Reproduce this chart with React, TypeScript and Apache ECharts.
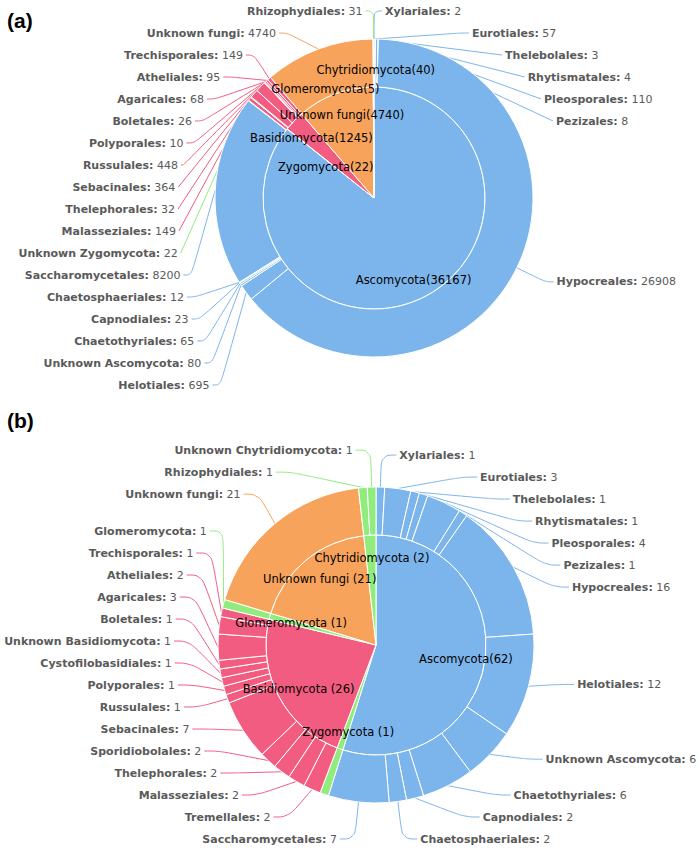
import React, { useEffect, useRef } from 'react';
import * as echarts from 'echarts';

// ---------- (a) ----------
const phylaA = ['Ascomycota', 'Zygomycota', 'Basidiomycota', 'Unknown fungi', 'Glomeromycota', 'Chytridiomycota'];
const phylumCountsA = [36167, 22, 1245, 4740, 5, 40];

const ascoOrdersA = ['Xylariales', 'Eurotiales', 'Thelebolales', 'Rhytismatales', 'Pleosporales', 'Pezizales', 'Hypocreales', 'Helotiales', 'Unknown Ascomycota', 'Chaetothyriales', 'Capnodiales', 'Chaetosphaeriales', 'Saccharomycetales'];
const ascoCountsA = [2, 57, 3, 4, 110, 8, 26908, 695, 80, 65, 23, 12, 8200];
const zygoOrdersA = ['Unknown Zygomycota'];
const zygoCountsA = [22];
const basidioOrdersA = ['Malasseziales', 'Thelephorales', 'Sebacinales', 'Russulales', 'Polyporales', 'Boletales', 'Agaricales', 'Atheliales', 'Trechisporales'];
const basidioCountsA = [149, 32, 364, 448, 10, 26, 68, 95, 149];
const unknownOrdersA = ['Unknown fungi'];
const unknownCountsA = [4740];
const glomOrdersA = ['Glomeromycota'];
const glomCountsA = [5];
const chytOrdersA = ['Rhizophydiales'];
const chytCountsA = [31];

// ---------- (b) ----------
const phylaB = ['Ascomycota', 'Zygomycota', 'Basidiomycota', 'Glomeromycota', 'Unknown fungi', 'Chytridiomycota'];
const phylumCountsB = [62, 1, 26, 1, 21, 2];

const ascoOrdersB = ['Xylariales', 'Eurotiales', 'Thelebolales', 'Rhytismatales', 'Pleosporales', 'Pezizales', 'Hypocreales', 'Helotiales', 'Unknown Ascomycota', 'Chaetothyriales', 'Capnodiales', 'Chaetosphaeriales', 'Saccharomycetales'];
const ascoCountsB = [1, 3, 1, 1, 4, 1, 16, 12, 6, 6, 2, 2, 7];
const zygoOrdersB = ['Unknown Zygomycota'];
const zygoCountsB = [1];
const basidioOrdersB = ['Tremellales', 'Malasseziales', 'Thelephorales', 'Sporidiobolales', 'Sebacinales', 'Russulales', 'Polyporales', 'Cystofilobasidiales', 'Unknown Basidiomycota', 'Boletales', 'Agaricales', 'Atheliales', 'Trechisporales'];
const basidioCountsB = [2, 2, 2, 2, 7, 1, 1, 1, 1, 1, 3, 2, 1];
const glomOrdersB = ['Glomeromycota'];
const glomCountsB = [1];
const unknownOrdersB = ['Unknown fungi'];
const unknownCountsB = [21];
const chytOrdersB = ['Rhizophydiales', 'Unknown Chytridiomycota'];
const chytCountsB = [1, 1];

const hiddenOuterA = ['Glomeromycota'];
const hiddenOuterB = ['Unknown Zygomycota'];

const COLORS: Record<string, string> = {
  Ascomycota: '#7cb5ec',
  Zygomycota: '#90ed7d',
  Basidiomycota: '#f15c80',
  'Unknown fungi': '#f7a35c',
  Glomeromycota: '#90ed7d',
  Chytridiomycota: '#90ed7d',
};

const FONT = 'DejaVu Sans';
const LABEL_GREY = '#5a5a5a';

type Group = { phylum: string; names: string[]; counts: number[] };

function buildOuter(groups: Group[], hidden: string[]) {
  const out: any[] = [];
  groups.forEach((g) => {
    g.names.forEach((n, i) => {
      const hide = hidden.indexOf(n) >= 0;
      out.push({
        name: n,
        value: g.counts[i],
        itemStyle: { color: COLORS[g.phylum] },
        label: hide ? { show: false } : undefined,
        labelLine: hide ? { show: false } : undefined,
      });
    });
  });
  return out;
}

function buildInner(names: string[], counts: number[]) {
  return names.map((n, i) => ({ name: n, value: counts[i], itemStyle: { color: COLORS[n] } }));
}

function innerLayout(counts: number[], cx: number, cy: number, r: number, nudges: number[][]) {
  const total = counts.reduce((a, b) => a + b, 0);
  return (params: any) => {
    const i = params.dataIndex;
    let before = 0;
    for (let k = 0; k < i; k++) before += counts[k];
    const mid = ((before + counts[i] / 2) / total) * Math.PI * 2;
    const nd = nudges[i] || [0, 0];
    return {
      x: cx + r * Math.sin(mid) + nd[0],
      y: cy - r * Math.cos(mid) + nd[1],
      align: 'center',
      verticalAlign: 'middle',
    };
  };
}

const innerNudgeA = [[0, 0], [23, 26], [3, 3], [0, 2], [-48, -18], [2, -37]];
const innerNudgeB = [[0, 0], [2, 1], [3, 1], [3, 2], [2, 4], [1, 4]];

// absolute pie centres (px) and series layout boxes (wider than the page so labels are never truncated)
const CXA = 374, CYA = 198, CXB = 376, CYB = 645;
const BOX_LEFT = -60, BOX_W = 820;

export default function App() {
  const ref = useRef<HTMLDivElement>(null);
  useEffect(() => {
    if (!ref.current) return;
    const chart = echarts.init(ref.current, undefined, { renderer: 'svg' });

    const outerA = buildOuter(
      [
        { phylum: 'Ascomycota', names: ascoOrdersA, counts: ascoCountsA },
        { phylum: 'Zygomycota', names: zygoOrdersA, counts: zygoCountsA },
        { phylum: 'Basidiomycota', names: basidioOrdersA, counts: basidioCountsA },
        { phylum: 'Unknown fungi', names: unknownOrdersA, counts: unknownCountsA },
        { phylum: 'Glomeromycota', names: glomOrdersA, counts: glomCountsA },
        { phylum: 'Chytridiomycota', names: chytOrdersA, counts: chytCountsA },
      ],
      hiddenOuterA
    );
    const outerB = buildOuter(
      [
        { phylum: 'Ascomycota', names: ascoOrdersB, counts: ascoCountsB },
        { phylum: 'Zygomycota', names: zygoOrdersB, counts: zygoCountsB },
        { phylum: 'Basidiomycota', names: basidioOrdersB, counts: basidioCountsB },
        { phylum: 'Glomeromycota', names: glomOrdersB, counts: glomCountsB },
        { phylum: 'Unknown fungi', names: unknownOrdersB, counts: unknownCountsB },
        { phylum: 'Chytridiomycota', names: chytOrdersB, counts: chytCountsB },
      ],
      hiddenOuterB
    );

    const outerLabel = {
      show: true,
      position: 'outside',
      formatter: '{n|{b}:} {v|{c}}',
      color: LABEL_GREY,
      fontFamily: FONT,
      fontSize: 11,
      lineHeight: 12,
      padding: [4, 0, 4, 0],
      distanceToLabelLine: 3,
      overflow: 'none',
      rich: {
        n: { fontFamily: FONT, fontSize: 11, fontWeight: 'bold', color: LABEL_GREY, lineHeight: 12 },
        v: { fontFamily: FONT, fontSize: 11, color: LABEL_GREY, lineHeight: 12 },
      },
    };
    const outerLineA = { show: true, length: 32, length2: 8, smooth: 0.4, lineStyle: { width: 1 } };
    const outerLineB = { show: true, length: 32, length2: 15, smooth: 0.4, lineStyle: { width: 1 } };
    const innerLabel = (sepAsco: string, sep: string) => ({
      show: true,
      position: 'inside',
      color: '#000',
      fontFamily: FONT,
      fontSize: 11.5,
      formatter: (p: any) => p.name + (p.dataIndex === 0 ? sepAsco : sep) + '(' + p.value + ')',
    });

    const boxA = { left: BOX_LEFT, top: 0, width: BOX_W, height: 396 };
    const boxB = { left: BOX_LEFT, top: 400, width: BOX_W, height: 450 };
    const centerA = [CXA - BOX_LEFT, CYA];
    const centerB = [CXB - BOX_LEFT, CYB - 400];

    chart.setOption({
      animation: false,
      graphic: [
        { type: 'text', left: 7, top: 10, style: { text: '(a)', font: 'bold 21px "Liberation Sans"', fill: '#000' } },
        { type: 'text', left: 7, top: 410, style: { text: '(b)', font: 'bold 21px "Liberation Sans"', fill: '#000' } },
      ],
      series: [
        {
          type: 'pie', ...boxA, center: centerA, radius: [0, 111], startAngle: 90, clockwise: true,
          data: buildInner(phylaA, phylumCountsA),
          itemStyle: { borderColor: '#fff', borderWidth: 1 },
          label: innerLabel('', ''),
          labelLine: { show: false },
          labelLayout: innerLayout(phylumCountsA, CXA, CYA, 91, innerNudgeA),
          silent: true,
        },
        {
          type: 'pie', ...boxA, center: centerA, radius: [111, 159], startAngle: 90, clockwise: true,
          data: outerA,
          itemStyle: { borderColor: '#fff', borderWidth: 1 },
          label: outerLabel, labelLine: outerLineA,
          avoidLabelOverlap: true, minShowLabelAngle: 0,
          silent: true,
        },
        {
          type: 'pie', ...boxB, center: centerB, radius: [0, 110], startAngle: 90, clockwise: true,
          data: buildInner(phylaB, phylumCountsB),
          itemStyle: { borderColor: '#fff', borderWidth: 1 },
          label: innerLabel('', ' '),
          labelLine: { show: false },
          labelLayout: innerLayout(phylumCountsB, CXB, CYB, 91, innerNudgeB),
          silent: true,
        },
        {
          type: 'pie', ...boxB, center: centerB, radius: [110, 158], startAngle: 90, clockwise: true,
          data: outerB,
          itemStyle: { borderColor: '#fff', borderWidth: 1 },
          label: outerLabel, labelLine: outerLineB,
          avoidLabelOverlap: true, minShowLabelAngle: 0,
          silent: true,
        },
      ],
    });
    return () => chart.dispose();
  }, []);
  return <div ref={ref} style={{ position: 'fixed', left: 0, top: 0, width: 700, height: 861, background: '#fff' }} />;
}
